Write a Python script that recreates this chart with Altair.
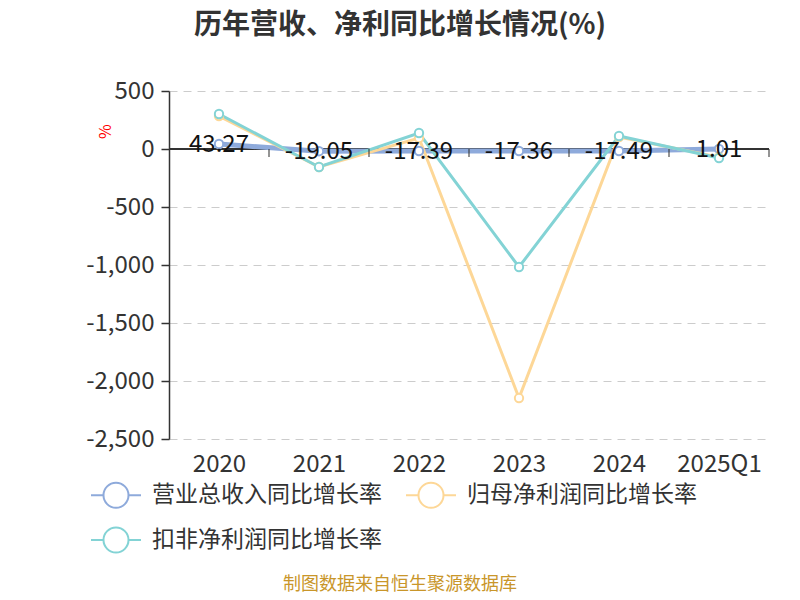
import altair as alt
import pandas as pd

categories = ["2020", "2021", "2022", "2023", "2024", "2025Q1"]
series_names = ["营业总收入同比增长率", "归母净利润同比增长率", "扣非净利润同比增长率"]
revenue = [43.27, -19.05, -17.39, -17.36, -17.49, 1.01]
net_profit = [284, -155, 95, -2147, 103, -70]
deducted_profit = [302, -155, 138, -1017, 112, -78]
colors = ["#8eaadb", "#fdd797", "#83d3d5"]
y_ticks = [-2500, -2000, -1500, -1000, -500, 0, 500]
title_text = "历年营收、净利同比增长情况(%)"
footer_text = "制图数据来自恒生聚源数据库"

rows = []
for name, vals in zip(series_names, [revenue, net_profit, deducted_profit]):
    for c, v in zip(categories, vals):
        rows.append({"cat": c, "series": name, "value": v})
df = pd.DataFrame(rows)
df_rev = pd.DataFrame({"cat": categories, "value": revenue,
                       "label": [f"{v:.2f}" for v in revenue]})
df_cat = pd.DataFrame({"cat": categories})

FONT = "Noto Sans CJK SC"

x_scale = alt.Scale(type="point", domain=categories, padding=0.5)
x_enc = alt.X("cat:N", sort=categories, title=None, scale=x_scale,
              axis=alt.Axis(domain=False, ticks=False, grid=False,
                            labelFontSize=24, labelColor="#333333",
                            labelPadding=13, labelAngle=0, labelFont=FONT))
y_scale = alt.Scale(domain=[-2500, 500], nice=False, zero=False)
y_enc = alt.Y("value:Q", scale=y_scale, title="%",
              axis=alt.Axis(values=y_ticks,
                            labelExpr="replace(format(datum.value, ',.0f'), '\u2212', '-')",
                            grid=True,
                            gridDash=[8, 6], gridColor="#cccccc",
                            domainColor="#333333", domainWidth=1.5,
                            tickColor="#333333", tickSize=8, tickWidth=1.5,
                            labelFontSize=24, labelColor="#333333",
                            labelPadding=7, labelFont=FONT,
                            titleColor="red", titleFontSize=16,
                            titleFontWeight="normal", titleFont=FONT,
                            titleX=-56, titleY=40))

color_enc = alt.Color("series:N", sort=series_names,
                      scale=alt.Scale(domain=series_names, range=colors),
                      legend=alt.Legend(
                          title=None, orient="none", legendX=-79, legendY=378,
                          direction="horizontal",
                          columns=2, columnPadding=20, rowPadding=2,
                          symbolType="M-1,0L-0.5,0M0.5,0L1,0M-0.5,0A0.5,0.5,0,1,1,0.5,0A0.5,0.5,0,1,1,-0.5,0",
                          symbolSize=2500, symbolStrokeWidth=2,
                          symbolFillColor="white",
                          labelFontSize=23, labelColor="#333333",
                          labelFont=FONT, labelOffset=10, labelLimit=400))

line_width = alt.condition(alt.datum.series == series_names[0],
                           alt.value(5), alt.value(3))

lines = alt.Chart(df).mark_line().encode(
    x=x_enc, y=y_enc, color=color_enc, strokeWidth=line_width)
points = alt.Chart(df).mark_point(filled=False, fill="white", size=70,
                                  strokeWidth=2, opacity=1).encode(
    x=x_enc, y=y_enc, color=color_enc)

zero_rule = alt.Chart(df_cat).mark_rule(color="#333333", strokeWidth=1.5).encode(
    y=alt.datum(0))
ticks = alt.Chart(df_cat).mark_tick(orient="vertical", size=8, thickness=1.5,
                                    color="#333333", xOffset=50, yOffset=4).encode(
    x=alt.X("cat:N", sort=categories, scale=x_scale), y=alt.datum(0))

labels = alt.Chart(df_rev).mark_text(fontSize=24, color="#111111", font=FONT,
                                     baseline="middle", dy=1).encode(
    x=alt.X("cat:N", sort=categories, scale=x_scale), y=alt.Y("value:Q"),
    text="label:N")

footer = alt.Chart(df_cat.head(1)).mark_text(
    fontSize=18, color="#c9962a", font=FONT, baseline="middle").encode(
    x=alt.value(231), y=alt.value(494), text=alt.value(footer_text))

title = alt.Chart(df_cat.head(1)).mark_text(
    fontSize=28, fontWeight="bold", color="#333333", font=FONT,
    baseline="middle").encode(
    x=alt.value(231), y=alt.value(-65), text=alt.value(title_text))

chart = alt.layer(zero_rule, lines, points, ticks, labels, footer, title).properties(
    width=600, height=348,
    autosize=alt.AutoSizeParams(type="none"),
    padding={"left": 161, "top": 83, "right": 20, "bottom": 155},
).configure_view(stroke=None)

chart.save("out.html", embed_options={"renderer": "svg", "actions": False})
